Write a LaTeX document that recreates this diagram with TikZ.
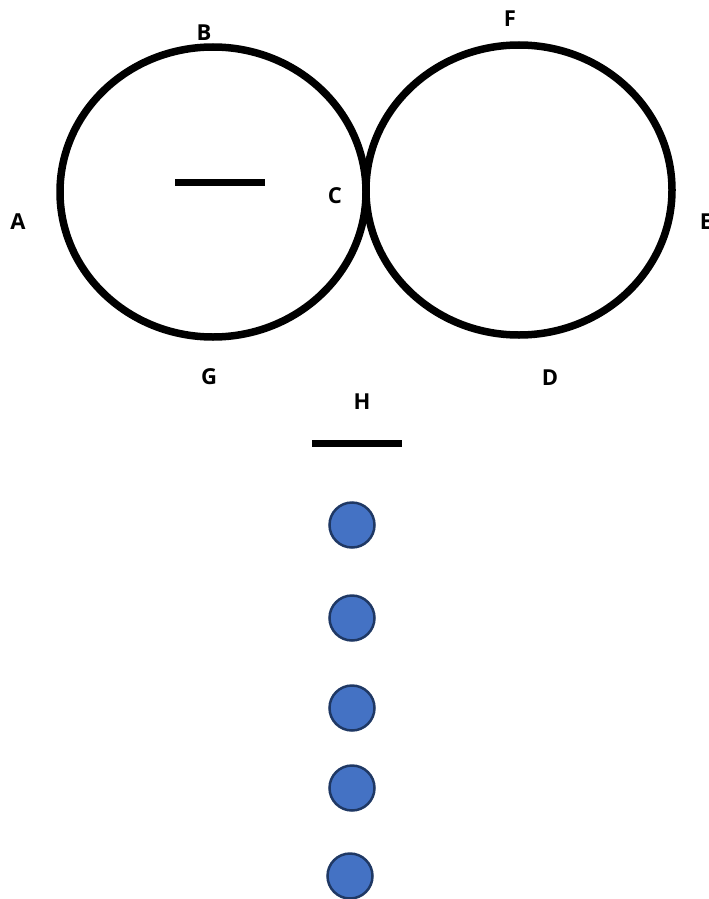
\documentclass[tikz,border=0pt]{standalone}
\usepackage{fontspec}
\setmainfont{Open Sans}
\usetikzlibrary{positioning}
\definecolor{dotfill}{HTML}{4472C4}
\definecolor{dotline}{HTML}{1F3864}

\begin{document}
\begin{tikzpicture}[
    x=1pt, y=-1pt,
    ring/.style={line width=7.5pt, draw=black},
    bar/.style={line width=7pt, draw=black},
    lbl/.style={font=\fontsize{22}{26}\selectfont\bfseries, inner sep=0pt},
    dot/.style={circle, draw=dotline, line width=2.5pt, fill=dotfill, minimum width=45pt, inner sep=0pt},
]
\useasboundingbox (0,0) rectangle (709,899);

% two rings
\draw[ring] (213,192) ellipse [x radius=153, y radius=145];
\draw[ring] (519,190) ellipse [x radius=153, y radius=145];

% bars
\draw[bar] (175,182) -- (265,182);
\draw[bar] (312,443) -- (402,443);

% labels
\node[lbl] (b) at (204,33) {B};
\node[lbl] (f) at (510,19) {F};
\node[lbl] (a) at (18,222) {A};
\node[lbl] (c) at (335,196) {C};
\node[lbl] (e) at (706,222) {E};
\node[lbl] (g) at (209,377) {G};
\node[lbl] (d) at (550,378) {D};
\node[lbl] (h) at (362,402) {H};

% dots
\node[dot] (d1) at (352,525) {};
\node[dot] (d2) at (352,618) {};
\node[dot] (d3) at (352,708) {};
\node[dot] (d4) at (352,788) {};
\node[dot] (d5) at (350,876) {};

\end{tikzpicture}
\end{document}
